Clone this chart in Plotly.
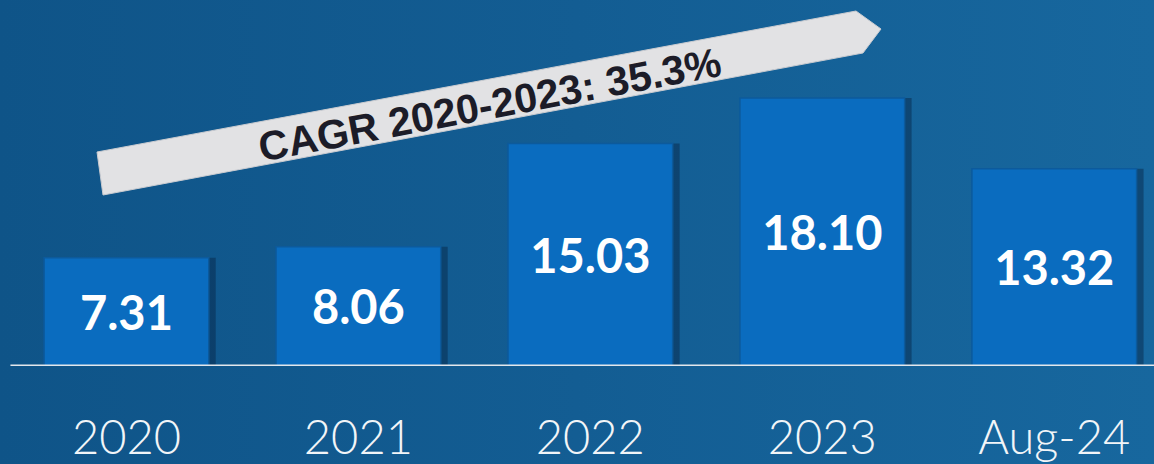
import plotly.graph_objects as go

# ---- data ----
categories = ["2020", "2021", "2022", "2023", "Aug-24"]
values = [7.31, 8.06, 15.03, 18.10, 13.32]
cagr_label = "CAGR 2020-2023: 35.3%"

W, H = 1154, 464

def px(x, y):
    """pixel -> paper coords (decorations only)"""
    return x / W, 1 - y / H

fig = go.Figure()

# background gradient (full-paper subplot xy)
fig.add_trace(go.Scatter(
    x=[0, 1, 1, 0, 0], y=[0, 0, 1, 1, 0], mode="lines", fill="toself",
    line=dict(width=0),
    fillgradient=dict(type="horizontal",
                      colorscale=[[0, "#0f5488"], [0.5, "#135d93"], [1, "#17679e"]]),
    hoverinfo="skip", showlegend=False, xaxis="x", yaxis="y"))

# bar shadow
fig.add_trace(go.Bar(
    x=categories, y=values, width=0.71, offset=-0.355 + 0.03,
    marker=dict(color="rgba(6,35,66,0.45)", line=dict(width=0)),
    hoverinfo="skip", showlegend=False, xaxis="x2", yaxis="y2"))

# bars
fig.add_trace(go.Bar(
    x=categories, y=values, width=0.71, offset=-0.355,
    marker=dict(color="#0a6cbf", line=dict(color="#0c5a9c", width=1.5)),
    texttemplate="%{y:.2f}", textposition="inside", insidetextanchor="middle",
    textangle=0,
    textfont=dict(family="Lato", size=47, color="white", weight=700),
    showlegend=False, xaxis="x2", yaxis="y2"))

scale = 14.8  # px per unit
base_px = 366

fig.update_layout(
    width=W, height=H,
    margin=dict(l=0, r=0, t=0, b=0),
    paper_bgcolor="#135b91",
    plot_bgcolor="rgba(0,0,0,0)",
    barmode="overlay",
    xaxis=dict(domain=[0, 1], range=[0, 1], visible=False, fixedrange=True),
    yaxis=dict(domain=[0, 1], range=[0, 1], visible=False, fixedrange=True),
    xaxis2=dict(domain=[0, 1], range=[-0.545, 4.43], anchor="y2",
                showgrid=False, zeroline=False, showline=False, ticks="",
                tickfont=dict(family="Lato", size=47, color="#f2f5f8", weight=300),
                ticklabelstandoff=40),
    yaxis2=dict(domain=[(H - base_px) / H, 1], range=[0, base_px / scale],
                anchor="x2", visible=False, showgrid=False, zeroline=False),
)

# baseline
fig.add_shape(type="line", xref="x2", yref="y2", x0=-0.5, x1=4.6, y0=0, y1=0,
              line=dict(color="#e3e7ec", width=3), layer="above")

# CAGR arrow banner
pts = [(97, 152), (856, 11), (881, 29), (863, 53), (103, 195)]
path = "M " + " L ".join(f"{px(x, y)[0]:.5f},{px(x, y)[1]:.5f}" for x, y in pts) + " Z"
fig.add_shape(type="path", xref="paper", yref="paper", path=path,
              fillcolor="#e2e2e4", line=dict(color="#c9cbd0", width=1), layer="above")

ax, ay = px(489, 105)
fig.add_annotation(xref="paper", yref="paper", x=ax, y=ay, text=f"<b>{cagr_label}</b>",
                   showarrow=False, textangle=-10.6,
                   font=dict(family="Liberation Sans", size=41, color="#1c1c28"),
                   xanchor="center", yanchor="middle")

fig.write_html("out.html",
               config={"displayModeBar": False},
               post_script="document.body.style.margin='0';document.body.style.padding='0';document.body.style.overflow='hidden';")
